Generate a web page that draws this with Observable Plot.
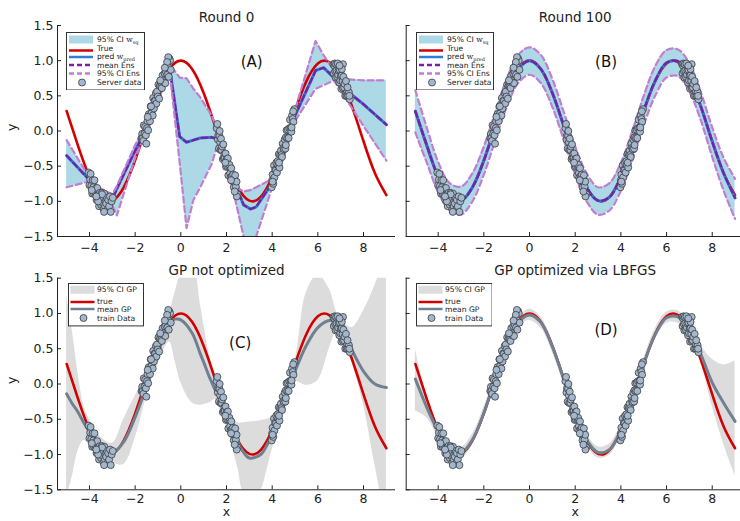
<!DOCTYPE html>
<html><head><meta charset="utf-8">
<script src="https://cdn.jsdelivr.net/npm/d3@7"></script>
<script src="https://cdn.jsdelivr.net/npm/@observablehq/plot@0.6"></script>
<style>
html,body{margin:0;padding:0;background:#fff;}
#root{position:relative;width:740px;height:521px;overflow:hidden;background:#fff;font-family:"DejaVu Sans",sans-serif;}
#root > div, #root > svg{position:absolute;}
</style></head><body><div id="root"></div>
<script>
// ---------- axes ----------
const tickX = [-4, -2, 0, 2, 4, 6, 8];
const tickY = [-1.5, -1, -0.5, 0, 0.5, 1, 1.5];
const xDomain = [-5.4, 9.4];
const yDomain = [-1.5, 1.5];
const titles = ["Round 0", "Round 100", "GP not optimized", "GP optimized via LBFGS"];
const tags = ["(A)", "(B)", "(C)", "(D)"];
const tagX = [3.1, 3.35, 2.6, 3.35];
const tagY = [0.98, 0.98, 0.58, 0.77];

// ---------- true function ----------
const xGrid = [-5,-4.5,-4,-3.5,-3,-2.5,-2,-1.5,-1,-0.5,0,0.5,1,1.5,2,2.5,3,3.5,4,4.5,5,5.5,6,6.5,7,7.5,8,8.5,9];
const trueY = [0.284,-0.211,-0.654,-0.936,-0.990,-0.801,-0.416,0.071,0.540,0.878,1.0,0.878,0.540,0.071,-0.416,-0.801,-0.990,-0.936,-0.654,-0.211,0.284,0.709,0.960,0.977,0.754,0.347,-0.146,-0.602,-0.911];

// ---------- panel A (Round 0) ----------
const xA =     [-5,-4.05,-3.5,-3.0,-2.8,-2.0,-1.5,-1.0,-0.5,-0.05,0.25,0.55,0.85,1.35,1.7,2.0,2.3,2.75,3.05,3.3,4.0,4.5,5.0,5.9,6.25,6.7,7.0,8.0,9.0];
const meanA =  [-0.35,-0.68,-0.88,-0.97,-0.82,-0.28,0.05,0.45,0.92,-0.08,-0.16,-0.13,-0.10,-0.09,-0.12,-0.40,-0.70,-1.05,-1.11,-1.08,-0.74,-0.30,0.22,0.86,0.90,0.76,0.64,0.38,0.09];
const upperA = [-0.13,-0.64,-0.82,-0.90,-0.78,-0.20,0.12,0.52,0.95,0.76,0.75,0.60,0.48,0.22,-0.06,-0.35,-0.78,-0.86,-0.84,-0.80,-0.68,-0.22,0.30,1.28,1.08,0.86,0.74,0.72,0.72];
const lowerA = [-0.80,-0.72,-0.95,-1.06,-1.20,-0.38,-0.02,0.38,0.88,-0.45,-1.38,-0.98,-0.80,-0.47,-0.10,-0.48,-0.86,-1.50,-1.75,-1.50,-0.80,-0.38,0.14,0.60,0.65,0.72,0.57,0.07,-0.42];

// ---------- panel B (Round 100) ----------
const predB =  [0.28,-0.20,-0.65,-0.93,-0.99,-0.80,-0.42,0.07,0.54,0.88,1.00,0.88,0.54,0.07,-0.42,-0.80,-0.99,-0.94,-0.65,-0.21,0.29,0.71,0.97,0.99,0.76,0.35,-0.15,-0.60,-0.95];
const upperB = [0.58,0.05,-0.44,-0.74,-0.79,-0.60,-0.22,0.27,0.74,1.08,1.19,1.08,0.74,0.27,-0.22,-0.60,-0.80,-0.74,-0.45,0.00,0.50,0.92,1.15,1.16,0.96,0.55,0.05,-0.38,-0.68];
const lowerB = [-0.02,-0.45,-0.87,-1.13,-1.19,-1.00,-0.62,-0.13,0.34,0.68,0.80,0.68,0.34,-0.13,-0.62,-1.00,-1.19,-1.13,-0.85,-0.42,0.08,0.50,0.76,0.78,0.56,0.15,-0.37,-0.85,-1.25];

// ---------- panel C (GP not optimized) ----------
const xC =     [-5,-4.75,-4.5,-4.25,-4,-3.5,-3,-2.5,-2,-1.5,-1,-0.5,-0.25,0,0.5,0.85,1.0,1.25,1.5,1.75,2,2.5,2.75,3,3.5,3.75,4,4.5,5,5.5,6,6.5,6.85,7.2,7.5,8,8.5,9];
const meanC =  [-0.14,-0.28,-0.40,-0.55,-0.68,-0.90,-0.98,-0.82,-0.47,-0.03,0.43,0.88,0.92,0.91,0.72,0.43,0.31,0.10,-0.08,-0.25,-0.45,-0.82,-0.97,-1.05,-1.00,-0.88,-0.70,-0.28,0.18,0.55,0.80,0.90,0.87,0.70,0.48,0.18,0.00,-0.05];
const upperC = [1.25,0.75,0.15,-0.30,-0.50,-0.75,-0.84,-0.50,-0.17,0.12,0.58,1.00,1.30,1.55,1.75,1.14,0.85,0.40,0.08,-0.10,-0.30,-0.55,-0.55,-0.54,-0.52,-0.50,-0.47,-0.12,0.33,1.30,1.55,1.35,1.00,0.85,0.80,1.04,1.40,1.90];
const lowerC = [-1.60,-1.31,-0.95,-0.80,-0.86,-1.05,-1.12,-1.14,-0.77,-0.18,0.28,0.60,0.32,0.02,-0.27,-0.30,-0.29,-0.27,-0.22,-0.38,-0.60,-1.20,-1.55,-1.60,-1.50,-1.25,-0.93,-0.44,0.03,-0.02,0.05,0.50,0.75,0.55,0.30,-0.30,-1.15,-2.00];

// ---------- panel D (GP optimized) ----------
const meanD =  [0.07,-0.33,-0.67,-0.92,-0.98,-0.79,-0.41,0.07,0.54,0.87,0.98,0.87,0.53,0.07,-0.41,-0.79,-0.97,-0.93,-0.65,-0.21,0.28,0.70,0.94,0.95,0.76,0.42,0.02,-0.27,-0.53];
const upperD = [0.50,-0.18,-0.58,-0.84,-0.90,-0.71,-0.33,0.15,0.61,0.94,1.06,0.95,0.61,0.15,-0.33,-0.71,-0.89,-0.85,-0.57,-0.13,0.36,0.78,1.02,1.04,0.84,0.55,0.35,0.27,0.33];
const lowerD = [-0.38,-0.48,-0.76,-1.00,-1.06,-0.87,-0.49,-0.01,0.47,0.80,0.90,0.79,0.45,-0.01,-0.49,-0.87,-1.05,-1.01,-0.73,-0.29,0.20,0.62,0.86,0.86,0.68,0.30,-0.32,-0.85,-1.30];

// ---------- observed data (same in all panels) ----------
const dataX = [
 -4.04,-4.0,-3.97,-3.95,-3.92,-3.88,-3.86,-3.83,-3.8,-3.78,-3.74,-3.72,-3.69,-3.66,-3.63,-3.6,-3.58,-3.55,-3.52,-3.49,-3.46,-3.43,-3.41,-3.38,-3.35,-3.32,-3.3,-3.27,-3.24,-3.21,-3.18,-3.14,-3.1,-3.07,-3.03,-2.98,-3.9,-3.62,-3.36,-3.45,-3.7,
 -1.72,-1.69,-1.67,-1.64,-1.62,-1.59,-1.56,-1.53,-1.51,-1.48,-1.46,-1.43,-1.4,-1.37,-1.35,-1.32,-1.29,-1.26,-1.23,-1.21,-1.18,-1.15,-1.12,-1.09,-1.07,-1.04,-1.01,-0.98,-0.95,-0.92,-0.89,-0.86,-0.83,-0.8,-0.77,-0.74,-0.71,-0.68,-0.65,-0.62,-0.59,-0.56,-0.53,-0.5,-0.47,-0.44,-0.55,-0.6,-0.7,-0.9,-1.3,-1.45,
 1.57,1.6,1.62,1.64,1.67,1.69,1.72,1.74,1.76,1.79,1.81,1.84,1.86,1.88,1.91,1.93,1.96,1.98,2.01,2.03,2.06,2.08,2.11,2.13,2.16,2.18,2.21,2.24,2.26,2.29,2.32,2.35,2.38,2.41,2.44,2.48,2.45,2.36,1.7,1.95,2.2,
 3.98,4.0,4.02,4.05,4.08,4.1,4.13,4.16,4.18,4.21,4.24,4.27,4.29,4.32,4.35,4.38,4.41,4.43,4.46,4.49,4.52,4.55,4.58,4.6,4.63,4.66,4.69,4.72,4.75,4.78,4.81,4.84,4.87,4.9,4.93,4.97,4.02,4.3,4.6,4.85,4.92,
 6.68,6.7,6.72,6.74,6.76,6.78,6.8,6.82,6.85,6.87,6.89,6.91,6.94,6.96,6.98,7.01,7.03,7.05,7.08,7.1,7.12,7.15,7.17,7.2,7.23,7.26,7.29,7.32,7.36,7.4,7.1,7.05,6.95,7.3,7.38];
const dataY = [
 -0.59,-0.77,-0.69,-0.61,-0.78,-0.89,-0.70,-0.80,-0.89,-0.70,-0.88,-0.82,-0.98,-0.81,-0.96,-0.90,-1.07,-0.88,-0.95,-1.05,-0.88,-1.02,-0.95,-1.11,-0.89,-1.07,-1.00,-1.03,-0.95,-1.12,-0.98,-1.07,-0.93,-1.15,-1.00,-0.95,-0.84,-1.00,-1.15,-0.90,-0.93,
 -0.10,-0.04,-0.10,-0.14,0.08,-0.04,0.06,-0.06,-0.18,0.04,0.14,0.01,0.24,0.21,0.14,0.35,0.25,0.35,0.22,0.47,0.32,0.43,0.43,0.54,0.39,0.56,0.49,0.66,0.46,0.64,0.70,0.63,0.61,0.79,0.72,0.69,0.82,0.68,0.84,0.92,0.80,0.91,0.77,1.03,1.00,0.87,1.05,0.98,0.90,0.72,0.35,0.20,
 0.04,0.10,-0.12,-0.06,-0.25,-0.07,-0.16,-0.27,-0.11,-0.27,-0.22,-0.40,-0.19,-0.38,-0.33,-0.38,-0.32,-0.51,-0.40,-0.50,-0.39,-0.63,-0.50,-0.48,-0.60,-0.66,-0.53,-0.64,-0.71,-0.62,-0.80,-0.68,-0.63,-0.79,-0.72,-0.90,-0.93,-0.86,0.00,-0.45,-0.70,
 -0.80,-0.70,-0.62,-0.75,-0.49,-0.66,-0.55,-0.56,-0.45,-0.59,-0.43,-0.49,-0.33,-0.52,-0.34,-0.28,-0.34,-0.37,-0.18,-0.24,-0.26,-0.12,-0.25,-0.09,0.01,-0.10,0.02,-0.10,0.04,0.16,0.04,-0.01,0.22,0.17,0.13,0.31,-0.72,-0.45,-0.20,0.05,0.28,
 0.95,0.82,0.93,0.96,0.85,0.76,0.95,0.86,0.77,0.96,0.80,0.86,0.69,0.87,0.72,0.78,0.60,0.79,0.71,0.61,0.77,0.62,0.67,0.50,0.71,0.50,0.56,0.50,0.55,0.45,0.95,0.88,0.93,0.62,0.50];

// ---------- colours ----------
const cRed = "#d40000", cBlue = "#2b7fd8", cPurple = "#7a1fa2", cLilac = "#c07ed2";
const cBandBlue = "#add8e6", cBandGray = "#dcdcdc", cSlate = "#708090";
const dotFill = "#a3b8cf", dotStroke = "#3a3a3a";

// ---------- tables ----------
const trueRows = xGrid.map((x, i) => ({x, y: trueY[i]}));
const rowsA = xA.map((x, i) => ({x, m: meanA[i], hi: upperA[i], lo: lowerA[i]}));
const rowsB = xGrid.map((x, i) => ({x, m: predB[i], hi: upperB[i], lo: lowerB[i]}));
const rowsC = xC.map((x, i) => ({x, m: meanC[i], hi: upperC[i], lo: lowerC[i]}));
const rowsD = xGrid.map((x, i) => ({x, m: meanD[i], hi: upperD[i], lo: lowerD[i]}));
const points = dataX.map((x, i) => ({x, y: dataY[i]}));

const fmtY = d3.format(".1f");
const fmtX = d3.format("d");
const root = document.getElementById("root");

function panel(o) {
  const p = Plot.plot({
    width: o.width, height: o.height,
    marginLeft: o.ml, marginRight: o.mr, marginTop: o.mt, marginBottom: o.mb,
    x: {domain: xDomain}, y: {domain: yDomain},
    style: {fontFamily: "'DejaVu Sans', sans-serif", fontSize: "12.5px", color: "#222", background: "transparent", overflow: "visible"},
    marks: [
      ...o.marks,
      Plot.dot(points, {x: "x", y: "y", r: 3.5, fill: dotFill, stroke: dotStroke, strokeWidth: 0.8, clip: true}),
      Plot.ruleX([xDomain[0]], {stroke: "#222", strokeWidth: 1}),
      Plot.ruleY([yDomain[0]], {stroke: "#222", strokeWidth: 1}),
      Plot.axisX({ticks: tickX, tickSize: -4, tickPadding: o.xLabel ? 8.5 : 10.5, tickFormat: fmtX, label: null, stroke: "#222"}),
      Plot.axisY({ticks: tickY, tickSize: -4, tickPadding: 8, tickFormat: o.yLabels ? fmtY : () => "", label: null, stroke: "#222"}),
      Plot.text([o.title], {frameAnchor: "top", dy: -13, fontSize: 13.5, fill: "#222"}),
      Plot.text([o.tag], {x: () => o.tx, y: () => o.ty, fontSize: 15, fill: "#111"}),
      ...(o.yLabels ? [Plot.text(["y"], {frameAnchor: "left", dx: -46, rotate: -90, fontSize: 12.5, fill: "#222"})] : []),
      ...(o.xLabel ? [Plot.text(["x"], {frameAnchor: "bottom", dy: 26.5, fontSize: 12.5, fill: "#222"})] : [])
    ]
  });
  p.style.position = "absolute";
  p.style.left = o.left + "px";
  p.style.top = o.top + "px";
  root.appendChild(p);
}

function ensMarks(rows, curve) {
  return [
    Plot.areaY(rows, {x: "x", y1: "lo", y2: "hi", fill: cBandBlue, clip: true, curve}),
    Plot.line(trueRows, {x: "x", y: "y", stroke: cRed, strokeWidth: 2.6, curve: "natural", clip: true}),
    Plot.line(rows, {x: "x", y: "m", stroke: cBlue, strokeWidth: 3, clip: true, curve}),
    Plot.line(rows, {x: "x", y: "m", stroke: cPurple, strokeWidth: 2.2, strokeDasharray: "6,3.5", clip: true, curve}),
    Plot.line(rows, {x: "x", y: "hi", stroke: cLilac, strokeWidth: 2.2, strokeDasharray: "6,3.5", clip: true, curve}),
    Plot.line(rows, {x: "x", y: "lo", stroke: cLilac, strokeWidth: 2.2, strokeDasharray: "6,3.5", clip: true, curve})
  ];
}
function gpMarks(rows) {
  return [
    Plot.areaY(rows, {x: "x", y1: "lo", y2: "hi", fill: cBandGray, clip: true, curve: "catmull-rom"}),
    Plot.line(trueRows, {x: "x", y: "y", stroke: cRed, strokeWidth: 2.6, curve: "natural", clip: true}),
    Plot.line(rows, {x: "x", y: "m", stroke: cSlate, strokeWidth: 3, clip: true, curve: "catmull-rom"})
  ];
}

panel({left: 0, top: 0, width: 400, height: 260, ml: 57, mr: 5, mt: 25, mb: 24, title: titles[0], tag: tags[0], tx: tagX[0], ty: tagY[0], yLabels: true, xLabel: false, marks: ensMarks(rowsA, "linear")});
panel({left: 400, top: 0, width: 345, height: 260, ml: 5.7, mr: 1.3, mt: 25, mb: 24, title: titles[1], tag: tags[1], tx: tagX[1], ty: tagY[1], yLabels: false, xLabel: false, marks: ensMarks(rowsB, "catmull-rom")});
panel({left: 0, top: 255, width: 400, height: 266, ml: 57, mr: 5, mt: 22.7, mb: 31.7, title: titles[2], tag: tags[2], tx: tagX[2], ty: tagY[2], yLabels: true, xLabel: true, marks: gpMarks(rowsC)});
panel({left: 400, top: 255, width: 345, height: 266, ml: 5.7, mr: 1.3, mt: 22.7, mb: 31.7, title: titles[3], tag: tags[3], tx: tagX[3], ty: tagY[3], yLabels: false, xLabel: true, marks: gpMarks(rowsD)});

// ---------- legends ----------
function legend(cfg) {
  const svg = d3.select(root).append("svg")
    .attr("width", cfg.w).attr("height", cfg.h)
    .style("position", "absolute").style("left", cfg.left + "px").style("top", cfg.top + "px")
    .style("font-family", "'DejaVu Sans', sans-serif").style("font-size", "7.6px");
  svg.append("rect").attr("x", 0.5).attr("y", 0.5).attr("width", cfg.w - 1).attr("height", cfg.h - 1)
    .attr("fill", "#fff").attr("stroke", "#333").attr("stroke-width", 1);
  for (const it of cfg.items) {
    if (it.kind === "band") {
      svg.append("rect").attr("x", cfg.sx0).attr("y", it.y - 4).attr("width", cfg.sx1 - cfg.sx0).attr("height", 8).attr("fill", it.color);
    } else if (it.kind === "line") {
      svg.append("line").attr("x1", cfg.sx0).attr("x2", cfg.sx1).attr("y1", it.y).attr("y2", it.y)
        .attr("stroke", it.color).attr("stroke-width", 2.5).attr("stroke-dasharray", it.dash || null);
    } else {
      svg.append("circle").attr("cx", (cfg.sx0 + cfg.sx1) / 2 + 1).attr("cy", it.y).attr("r", 3.5)
        .attr("fill", dotFill).attr("stroke", dotStroke).attr("stroke-width", 0.8);
    }
    const t = svg.append("text").attr("x", cfg.tx).attr("y", it.ty !== undefined ? it.ty : it.y).attr("dy", "0.35em").attr("fill", "#222");
    t.append("tspan").text(it.label);
    if (it.sub) {
      t.append("tspan").attr("font-family", "'DejaVu Serif', serif").text("w");
      t.append("tspan").attr("font-family", "'DejaVu Serif', serif").attr("font-size", "5px").attr("dy", "1.8").text(it.sub);
    }
  }
}
const ensItems = [
  {kind: "band", color: cBandBlue, y: 7.5, label: "95% CI ", sub: "sq"},
  {kind: "line", color: cRed, y: 18.5, ty: 16.3, label: "True"},
  {kind: "line", color: cBlue, y: 25, ty: 24.6, label: "pred ", sub: "pred"},
  {kind: "line", color: cPurple, y: 33, dash: "5,3", label: "mean Ens"},
  {kind: "line", color: cLilac, y: 41.5, dash: "5,3", label: "95% CI Ens"},
  {kind: "dot", y: 50.5, label: "Server data"}
];
const gpItems = [
  {kind: "band", color: cBandGray, y: 6.7, label: "95% CI GP"},
  {kind: "line", color: cRed, y: 19, ty: 18.2, label: "true"},
  {kind: "line", color: cSlate, y: 26, ty: 26.4, label: "mean GP"},
  {kind: "dot", y: 35, label: "train Data"}
];
legend({left: 66, top: 31.5, w: 79, h: 58.5, sx0: 3, sx1: 27, tx: 31, items: ensItems});
legend({left: 416, top: 31.5, w: 78, h: 58.5, sx0: 3, sx1: 27, tx: 31, items: ensItems});
legend({left: 67.5, top: 283.3, w: 76, h: 43.4, sx0: 2.5, sx1: 26.5, tx: 29, items: gpItems});
legend({left: 415.7, top: 283.3, w: 76.6, h: 43.4, sx0: 2.5, sx1: 26.5, tx: 29, items: gpItems});
</script>
</body></html>
